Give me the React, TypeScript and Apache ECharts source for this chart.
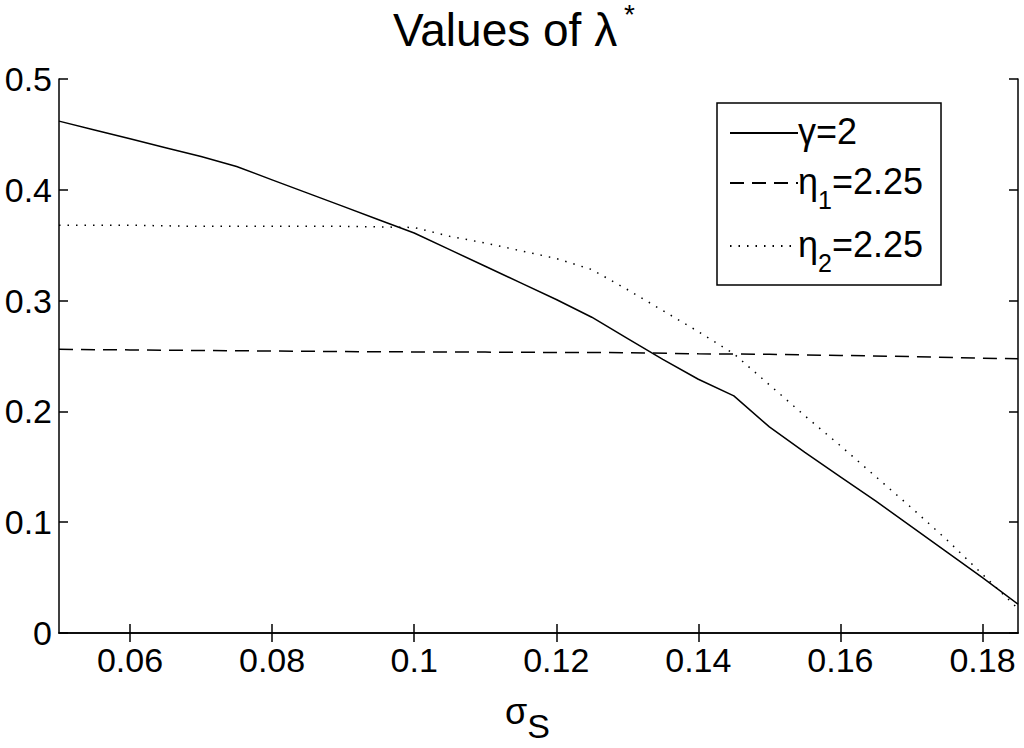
import React, { useEffect, useRef } from "react";
import * as echarts from "echarts";

// sigma_S grid (x)
const sigmaGamma = [0.05, 0.055, 0.06, 0.065, 0.07, 0.075, 0.08, 0.085, 0.09, 0.095, 0.1, 0.105, 0.11, 0.115, 0.12, 0.125, 0.13, 0.135, 0.14, 0.145, 0.15, 0.155, 0.16, 0.165, 0.17, 0.175, 0.18, 0.185];
const lambdaGamma = [0.462, 0.454, 0.446, 0.438, 0.43, 0.421, 0.409, 0.397, 0.385, 0.373, 0.361, 0.346, 0.331, 0.316, 0.301, 0.285, 0.266, 0.247, 0.229, 0.214, 0.186, 0.163, 0.141, 0.119, 0.096, 0.073, 0.05, 0.026];

const sigmaEta1 = [0.05, 0.06, 0.07, 0.08, 0.09, 0.1, 0.11, 0.12, 0.13, 0.14, 0.15, 0.16, 0.17, 0.18, 0.185];
const lambdaEta1 = [0.256, 0.2555, 0.255, 0.2545, 0.254, 0.2537, 0.2535, 0.2532, 0.253, 0.252, 0.2515, 0.2505, 0.2495, 0.248, 0.2475];

const sigmaEta2 = [0.05, 0.06, 0.07, 0.08, 0.09, 0.1, 0.105, 0.11, 0.115, 0.12, 0.125, 0.13, 0.135, 0.14, 0.145, 0.15, 0.155, 0.16, 0.165, 0.17, 0.175, 0.18, 0.185];
const lambdaEta2 = [0.368, 0.368, 0.367, 0.367, 0.367, 0.366, 0.358, 0.352, 0.345, 0.338, 0.328, 0.31, 0.291, 0.272, 0.252, 0.224, 0.196, 0.169, 0.141, 0.113, 0.084, 0.053, 0.022];

const xTicks = [0.06, 0.08, 0.1, 0.12, 0.14, 0.16, 0.18];
const seriesNames = ["γ=2", "η1=2.25", "η2=2.25"];
const legendRich = ["{n|γ=2}", "{n|η}{s|1}{n|=2.25}", "{n|η}{s|2}{n|=2.25}"];

const FONT = "'Liberation Sans', Arial, Helvetica, sans-serif";

const pairs = (xs: number[], ys: number[]) => xs.map((x, i) => [x, ys[i]]);

export default function App() {
  const ref = useRef<HTMLDivElement>(null);
  useEffect(() => {
    document.body.style.margin = "0";
    const chart = echarts.init(ref.current!, undefined, { renderer: "svg" });
    const axisLine = { show: true, lineStyle: { color: "#000", width: 1.5 } };
    const inTick = { show: true, inside: true, length: 9, lineStyle: { color: "#000", width: 1.5 } };
    chart.setOption({
      animation: false,
      backgroundColor: "#fff",
      textStyle: { fontFamily: FONT },
      title: [
        {
          text: "Values of λ",
          left: 388,
          top: 2,
          textStyle: { fontSize: 46, lineHeight: 46, fontWeight: "normal", fontFamily: FONT, color: "#000" },
        },
        {
          text: "*",
          left: 624,
          top: 0,
          padding: 0,
          textStyle: { fontSize: 28, lineHeight: 28, fontWeight: "normal", fontFamily: FONT, color: "#000" },
        },
      ],
      grid: { left: 59, right: 6, top: 79, bottom: 107, containLabel: false },
      legend: {
        orient: "vertical",
        left: 717,
        top: 103,
        width: 224,
        padding: [10, 18, 10, 12],
        itemGap: 14,
        itemWidth: 68,
        itemHeight: 14,
        borderColor: "#000",
        borderWidth: 1.5,
        backgroundColor: "#fff",
        data: seriesNames,
        itemStyle: { color: "transparent", borderWidth: 0, opacity: 0 },
        formatter: (name: string) => legendRich[seriesNames.indexOf(name)],
        textStyle: {
          padding: [0, 0, 0, -5],
          rich: {
            n: { fontSize: 36, fontFamily: FONT, color: "#000", lineHeight: 40, verticalAlign: "top" },
            s: { fontSize: 25, fontFamily: FONT, color: "#000", lineHeight: 25, padding: [24, 0, 0, 0], verticalAlign: "top" },
          },
        },
      },
      xAxis: [
        {
          type: "value",
          min: 0.05,
          max: 0.185,
          axisLine,
          axisTick: { ...inTick, customValues: xTicks },
          axisLabel: { customValues: xTicks, fontSize: 34, color: "#000", margin: 10, fontFamily: FONT, formatter: (v: number) => String(+v.toFixed(2)) },
          splitLine: { show: false },
          name: "{a|σ}{s|S}",
          nameLocation: "middle",
          nameGap: 60,
          nameTextStyle: {
            padding: [0, 22, 0, 0],
            rich: {
              a: { fontSize: 36, fontFamily: FONT, color: "#000", lineHeight: 38, verticalAlign: "top" },
              s: { fontSize: 34, fontFamily: FONT, color: "#000", lineHeight: 34, padding: [16, 0, 0, 0], verticalAlign: "top" },
            },
          },
        },
        {
          type: "value",
          position: "top",
          min: 0.05,
          max: 0.185,
          axisLine,
          axisTick: { ...inTick, customValues: xTicks },
          axisLabel: { show: false },
          splitLine: { show: false },
        },
      ],
      yAxis: [
        {
          type: "value",
          min: 0,
          max: 0.5,
          interval: 0.1,
          axisLine,
          axisTick: inTick,
          axisLabel: { fontSize: 34, color: "#000", margin: 7, fontFamily: FONT },
          splitLine: { show: false },
        },
        {
          type: "value",
          position: "right",
          min: 0,
          max: 0.5,
          interval: 0.1,
          axisLine,
          axisTick: inTick,
          axisLabel: { show: false },
          splitLine: { show: false },
        },
      ],
      series: [
        {
          name: seriesNames[0],
          type: "line",
          data: pairs(sigmaGamma, lambdaGamma),
          symbol: "none",
          lineStyle: { color: "#000", width: 1.5, type: "solid" },
          itemStyle: { color: "#000" },
        },
        {
          name: seriesNames[1],
          type: "line",
          data: pairs(sigmaEta1, lambdaEta1),
          symbol: "none",
          lineStyle: { color: "#000", width: 1.5, type: [14, 8] },
          itemStyle: { color: "#000" },
        },
        {
          name: seriesNames[2],
          type: "line",
          data: pairs(sigmaEta2, lambdaEta2),
          symbol: "none",
          lineStyle: { color: "#000", width: 1.5, type: [1.5, 7] },
          itemStyle: { color: "#000" },
        },
      ],
    });
    return () => chart.dispose();
  }, []);
  return <div ref={ref} style={{ width: 1024, height: 748 }} />;
}
